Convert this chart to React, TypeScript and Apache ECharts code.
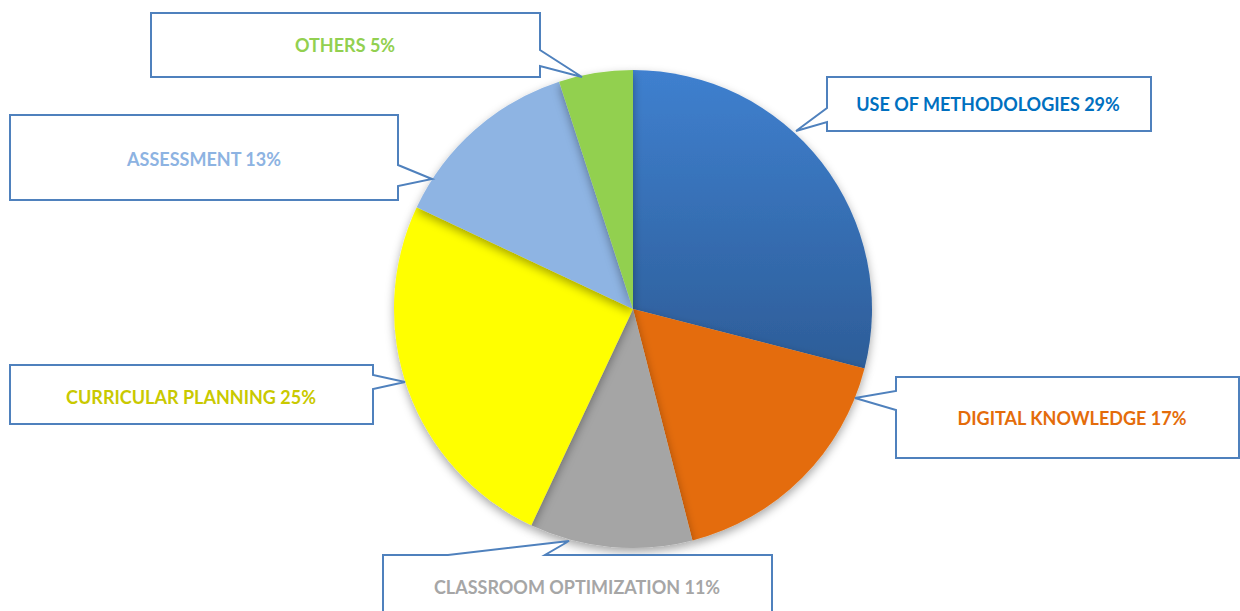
import React, { useEffect, useRef } from "react";
import * as echarts from "echarts";

const categories = [
  "USE OF METHODOLOGIES",
  "DIGITAL KNOWLEDGE",
  "CLASSROOM OPTIMIZATION",
  "CURRICULAR PLANNING",
  "ASSESSMENT",
  "OTHERS",
];
const values = [29, 17, 11, 25, 13, 5];
const labelColors = ["#0070C0", "#E46C0A", "#A6A6A6", "#C9C900", "#8DB3E2", "#92D050"];

// callout shapes: polygon outline + text anchor
const callouts: { pts: number[][]; tx: number; ty: number }[] = [
  { pts: [[827, 77], [1151, 77], [1151, 131], [827, 131], [827, 122], [796, 131], [827, 108]], tx: 988, ty: 104 },
  { pts: [[896, 377], [1239, 377], [1239, 458], [896, 458], [896, 410], [855, 398], [896, 391]], tx: 1072, ty: 418 },
  { pts: [[383, 555], [448, 555], [569, 541], [545, 555], [772, 555], [772, 620], [383, 620]], tx: 577, ty: 587 },
  { pts: [[10, 365], [373, 365], [373, 375], [405, 382], [373, 389], [373, 424], [10, 424]], tx: 191, ty: 397 },
  { pts: [[10, 115], [398, 115], [398, 165], [432, 179], [398, 186], [398, 200], [10, 200]], tx: 204, ty: 159 },
  { pts: [[151, 13], [540, 13], [540, 50], [582, 77], [540, 66], [540, 77], [151, 77]], tx: 345, ty: 45 },
];

export default function App() {
  const ref = useRef<HTMLDivElement>(null);
  useEffect(() => {
    if (!ref.current) return;
    const chart = echarts.init(ref.current, null, { renderer: "svg" });
    const sliceColors: any[] = [
      new echarts.graphic.LinearGradient(0, 0, 0, 1, [
        { offset: 0, color: "#3F80CF" },
        { offset: 1, color: "#2D5D98" },
      ]),
      "#E46C0A",
      "#A5A5A5",
      "#FFFF00",
      "#8EB4E3",
      "#92D050",
    ];
    const graphics: any[] = [];
    callouts.forEach((c, i) => {
      graphics.push({
        type: "polygon",
        shape: { points: c.pts },
        style: { fill: "#fff", stroke: "#4F81BD", lineWidth: 2 },
        z: 10,
      });
      graphics.push({
        type: "text",
        x: c.tx,
        y: c.ty,
        z: 11,
        style: {
          text: `${categories[i]} ${values[i]}%`,
          fill: labelColors[i],
          font: "bold 18px Lato, 'Open Sans', sans-serif",
          textAlign: "center",
          textVerticalAlign: "middle",
        },
      });
    });
    chart.setOption({
      animation: false,
      backgroundColor: "#fff",
      graphic: graphics,
      series: [
        {
          type: "pie",
          center: [633, 309],
          radius: 239,
          startAngle: 90,
          clockwise: true,
          label: { show: false },
          labelLine: { show: false },
          itemStyle: {
            shadowBlur: 10,
            shadowOffsetY: 4,
            shadowColor: "rgba(0,0,0,0.35)",
          },
          emphasis: { disabled: true },
          data: categories.map((n, i) => ({
            name: n,
            value: values[i],
            itemStyle: { color: sliceColors[i] },
          })),
        },
      ],
    });
    return () => chart.dispose();
  }, []);
  return (
    <div
      ref={ref}
      style={{ position: "fixed", left: 0, top: 0, width: 1240, height: 611 }}
    />
  );
}
